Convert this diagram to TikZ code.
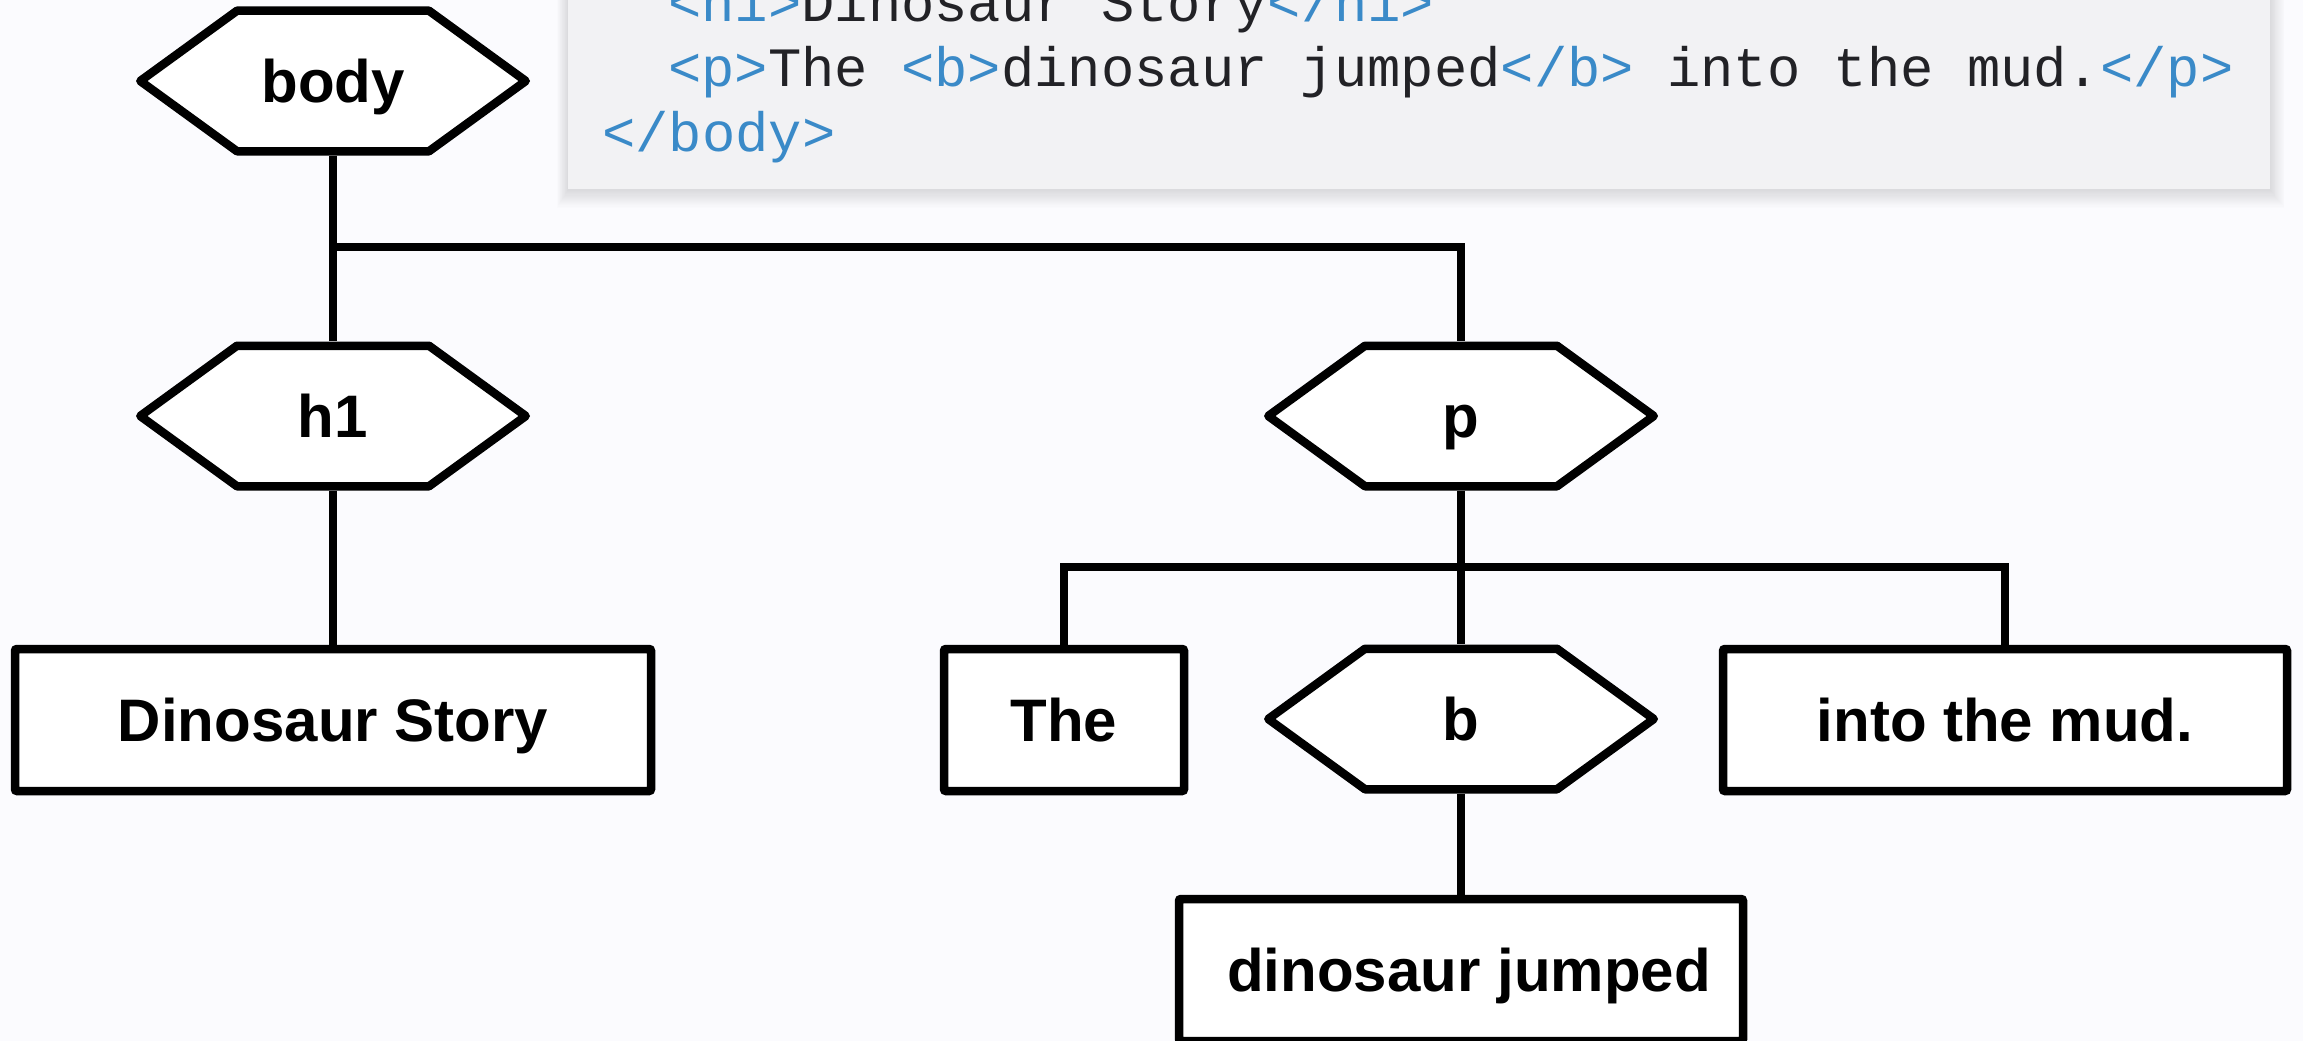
\documentclass[tikz,border=0pt]{standalone}
\usepackage{fontspec}
\setmainfont{Liberation Sans}
\newfontfamily\codefont{Liberation Mono}
\definecolor{bgcol}{RGB}{251,251,254}
\definecolor{codebg}{RGB}{242,242,244}
\definecolor{codeblue}{RGB}{58,138,200}
\definecolor{codetext}{RGB}{34,34,38}
\newcommand\tg[1]{\textcolor{codeblue}{#1}}
\newcommand\labelfont{\fontsize{60}{72}\selectfont\bfseries}
\tikzset{
  conn/.style={line width=8.5pt, draw=black},
  hexbox/.style={minimum width=394pt, minimum height=149pt, inner sep=0pt,
    font=\labelfont, text height=43pt, text depth=0pt,
    path picture={
      \filldraw[fill=white, draw=black, line width=8.5pt, line join=round]
        ([xshift=4.25pt]path picture bounding box.west) --
        ([xshift=101pt,yshift=-4.25pt]path picture bounding box.north west) --
        ([xshift=-101pt,yshift=-4.25pt]path picture bounding box.north east) --
        ([xshift=-4.25pt]path picture bounding box.east) --
        ([xshift=-101pt,yshift=4.25pt]path picture bounding box.south east) --
        ([xshift=101pt,yshift=4.25pt]path picture bounding box.south west) -- cycle;
    }},
  rectbox/.style={draw=black, fill=white, line width=8.5pt, rounded corners=2pt,
    minimum height=142pt, inner sep=0pt, font=\labelfont,
    text height=43pt, text depth=0pt},
  codeline/.style={anchor=base west, inner sep=0pt, text=codetext,
    font=\codefont\fontsize{55.5}{64}\selectfont}
}
\begin{document}
\begin{tikzpicture}[x=1pt, y=-1pt]
\useasboundingbox[fill=bgcol] (0,0) rectangle (2303,1041);
% code block soft shadow
\foreach \s in {1,2,...,16}
  \fill[black, opacity=0.007] ({568-\s*0.7},-30) rectangle ({2270+\s*0.9},{190+\s*1.1});
\fill[codebg] (568,-30) rectangle (2270,189);
\node[codeline] (code1) at (668,22) {\tg{<h1>}Dinosaur Story\tg{</h1>}};
\node[codeline] (code2) at (668,87) {\tg{<p>}The \tg{<b>}dinosaur jumped\tg{</b>} into the mud.\tg{</p>}};
\node[codeline] (code3) at (602,151) {\tg{</body>}};
% tree nodes
\node[hexbox] (body) at (333,81) {body};
\node[hexbox] (h1) at (333,416) {h1};
\node[hexbox] (p) at (1461,416) {p};
\node[hexbox] (b) at (1461,719) {b};
\node[rectbox, minimum width=636pt] (ds) at (333,720) {Dinosaur Story};
\node[rectbox, minimum width=240pt] (the) at (1064,720) {The};
\node[rectbox, minimum width=564pt] (into) at (2005,720) {into the mud.};
\node[rectbox, minimum width=564pt] (dj) at (1461,970) {\hspace*{16pt}dinosaur jumped};
% connectors
\coordinate (j1) at (333,247);
\coordinate (j2) at (1461,567);
\draw[conn] (body.south) -- (h1.north);
\draw[conn] (j1) -| (p.north);
\draw[conn] (h1.south) -- (ds.north);
\draw[conn] (p.south) -- (b.north);
\draw[conn] (the.north) |- (j2) -| (into.north);
\draw[conn] (b.south) -- (dj.north);
\end{tikzpicture}
\end{document}
